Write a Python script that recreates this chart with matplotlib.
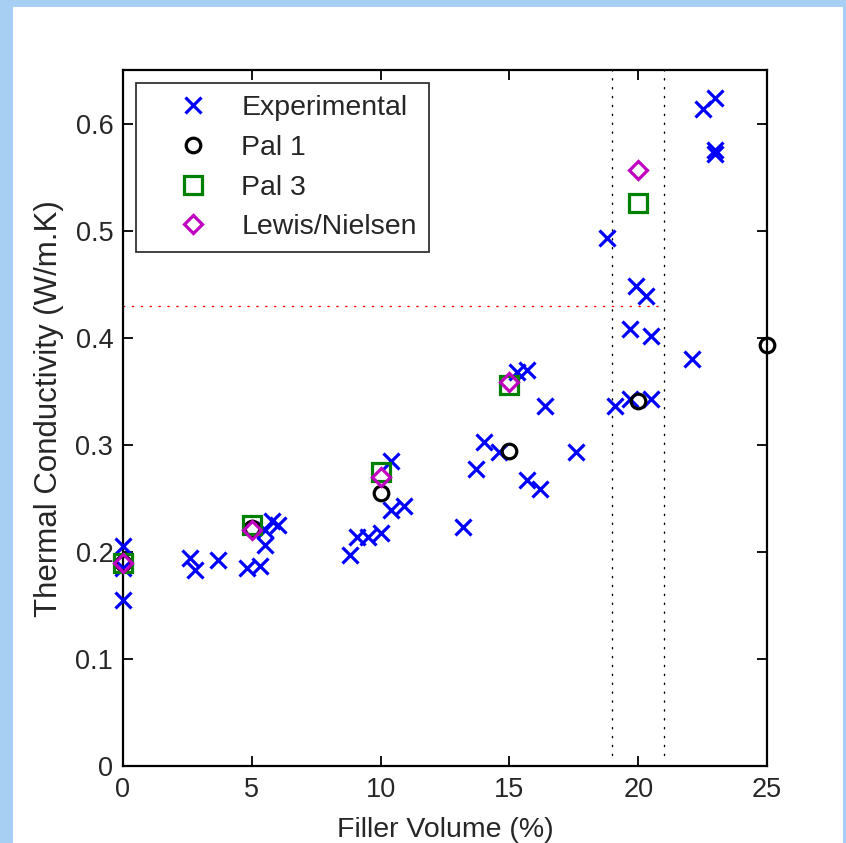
import matplotlib
matplotlib.use("Agg")
import matplotlib.pyplot as plt
from matplotlib.patches import Rectangle

plt.rcParams['font.family'] = ['Liberation Sans', 'DejaVu Sans']

# experimental measurements
exp_x = [0, 0, 0, 2.6, 2.8, 3.7, 4.8, 5.3, 5.5, 5.5, 5.8, 6.0,
         8.8, 9.1, 9.5, 10.0, 10.4, 10.9, 10.4, 13.2, 13.7, 14.0, 14.6,
         15.3, 15.7, 15.7, 16.2, 16.4, 17.6, 18.8, 19.9, 20.3, 19.7, 20.5,
         19.1, 19.7, 20.5, 22.1, 22.5, 23.0, 23.0, 23.0]
exp_y = [0.205, 0.185, 0.155, 0.194, 0.183, 0.192, 0.185, 0.187, 0.206, 0.220, 0.229, 0.225,
         0.197, 0.214, 0.214, 0.218, 0.239, 0.243, 0.285, 0.223, 0.277, 0.303, 0.293,
         0.368, 0.370, 0.267, 0.259, 0.336, 0.293, 0.493, 0.448, 0.439, 0.408, 0.402,
         0.336, 0.343, 0.343, 0.380, 0.614, 0.624, 0.575, 0.572]

# model predictions
pal1_x = [0, 5, 10, 15, 20, 25]
pal1_y = [0.190, 0.222, 0.255, 0.294, 0.341, 0.393]
pal3_x = [0, 5, 10, 15, 20]
pal3_y = [0.190, 0.225, 0.275, 0.356, 0.526]
lewis_x = [0, 5, 10, 15, 20]
lewis_y = [0.190, 0.220, 0.270, 0.359, 0.557]

# reference lines
vlines_x = [19, 21]
hline_y = 0.43
hline_xmax = 21

xticks = [0, 5, 10, 15, 20, 25]
yticks = [0, 0.1, 0.2, 0.3, 0.4, 0.5, 0.6]
ytick_labels = ['0', '0.1', '0.2', '0.3', '0.4', '0.5', '0.6']

W, H = 846, 843
fig = plt.figure(figsize=(W / 100, H / 100), dpi=100)
fig.patch.set_facecolor('#a7cff3')
# white slide area
bg = Rectangle((13 / W, 0), (843 - 13) / W, (H - 7) / H,
               transform=fig.transFigure, facecolor='white',
               edgecolor='none', zorder=-10)
fig.add_artist(bg)

ax = fig.add_axes([123 / W, (H - 766) / H, (767 - 123) / W, (766 - 70) / H])
ax.set_facecolor('white')

txt = '#262626'

for xv in vlines_x:
    ax.plot([xv, xv], [0.01, 0.65], color='black', lw=1.0, dashes=(0.9, 5.5),
            dash_capstyle='round')
ax.plot([0, hline_xmax], [hline_y, hline_y], color='red', lw=1.0,
        dashes=(0.9, 5.5), dash_capstyle='round')

ax.plot(exp_x, exp_y, 'x', color='#0000ff', ms=11.5, mew=2.3, ls='none',
        label='Experimental', clip_on=False, zorder=3)
ax.plot(pal1_x, pal1_y, 'o', mfc='none', mec='black', ms=10.5, mew=2.3, ls='none',
        label='Pal 1', clip_on=False, zorder=4)
ax.plot(pal3_x, pal3_y, 's', mfc='none', mec='#008000', ms=12.5, mew=2.3, ls='none',
        label='Pal 3', clip_on=False, zorder=5)
ax.plot(lewis_x, lewis_y, 'D', mfc='none', mec='#c000c0', ms=9.5, mew=2.3, ls='none',
        label='Lewis/Nielsen', clip_on=False, zorder=6)

ax.set_xlim(0, 25)
ax.set_ylim(0, 0.65)
ax.set_xticks(xticks)
ax.set_yticks(yticks)
ax.set_yticklabels(ytick_labels)
ax.tick_params(direction='in', length=7, width=1.3, top=True, right=True,
               labelsize=19.5, labelcolor=txt)
ax.tick_params(axis='x', pad=8)
ax.tick_params(axis='y', pad=7)
for s in ax.spines.values():
    s.set_linewidth(1.6)
    s.set_color('black')

ax.set_xlabel('Filler Volume (%)', fontsize=20.5, color=txt, labelpad=10)
ax.set_ylabel('Thermal Conductivity (W/m.K)', fontsize=22.5, color=txt)
ax.yaxis.set_label_coords(-0.092, 0.514)

leg = ax.legend(loc='upper left', bbox_to_anchor=(0.02, 0.981), borderaxespad=0,
                fontsize=20.5, frameon=True, fancybox=False, handlelength=3.2,
                handletextpad=0.08, labelspacing=0.48, borderpad=0.42, numpoints=1)
leg.get_frame().set_edgecolor('black')
leg.get_frame().set_linewidth(1.3)
for t in leg.get_texts():
    t.set_color(txt)

fig.savefig('out.png', dpi=100, facecolor=fig.get_facecolor())
